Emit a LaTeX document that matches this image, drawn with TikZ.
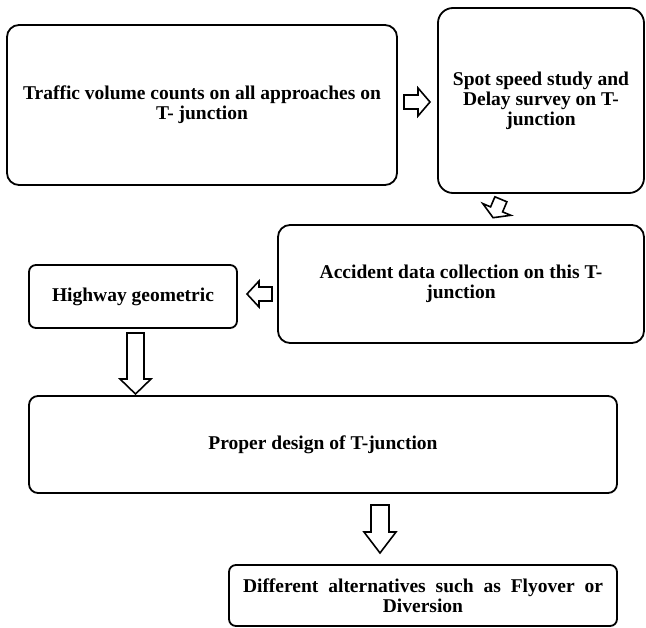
\documentclass[tikz,border=0pt]{standalone}
\usepackage{fontspec}
\setmainfont{Liberation Serif}
\begin{document}
\begin{tikzpicture}[x=1pt,y=-1pt,
  box/.style={draw, line width=1.8pt, align=center, inner sep=0pt,
    font=\bfseries\fontsize{19.5}{20}\selectfont},
  blk/.style={draw, line width=1.6pt, fill=white, line join=miter}]
\useasboundingbox[fill=white] (0,0) rectangle (646,628);

\node[box, rounded corners=12pt, minimum width=390pt, minimum height=160pt] (traffic) at (202,105)
  {Traffic volume counts on all approaches on\\T- junction};
\node[box, rounded corners=15pt, minimum width=206pt, minimum height=185pt] (spot) at (541,100.5)
  {Spot speed study and\\Delay survey on T-\\junction};
\node[box, rounded corners=12pt, minimum width=366pt, minimum height=118pt] (accident) at (461,284)
  {Accident data collection on this T-\\junction};
\node[box, rounded corners=7pt, minimum width=208pt, minimum height=63pt] (highway) at (133,296.5)
  {Highway geometric};
\node[box, rounded corners=9pt, minimum width=588pt, minimum height=97pt] (proper) at (323,444.5)
  {Proper design of T-junction};
\node[box, rounded corners=7pt, minimum width=388pt, minimum height=61pt] (alt) at (423,595.5)
  {\makebox[360pt][s]{Different alternatives such as Flyover or}\\Diversion};

% block arrows
\draw[blk] (404,95) -- (418,95) -- (418,88) -- (430,102) -- (418,116) -- (418,109) -- (404,109) -- cycle;
\draw[blk] (494.9,196.8) -- (506.9,201.8) -- (502.6,211.9) -- (510.8,215.3) -- (493.1,217.7) -- (482.8,203.6) -- (490.6,206.9) -- cycle;
\draw[blk] (272,287) -- (259,287) -- (259,281) -- (247,294) -- (259,307) -- (259,301) -- (272,301) -- cycle;
\draw[blk] (127,333) -- (144,333) -- (144,379) -- (151,379) -- (135.5,394) -- (120,379) -- (127,379) -- cycle;
\draw[blk] (371,505) -- (389,505) -- (389,532) -- (396,532) -- (380,553) -- (364,532) -- (371,532) -- cycle;
\end{tikzpicture}
\end{document}
